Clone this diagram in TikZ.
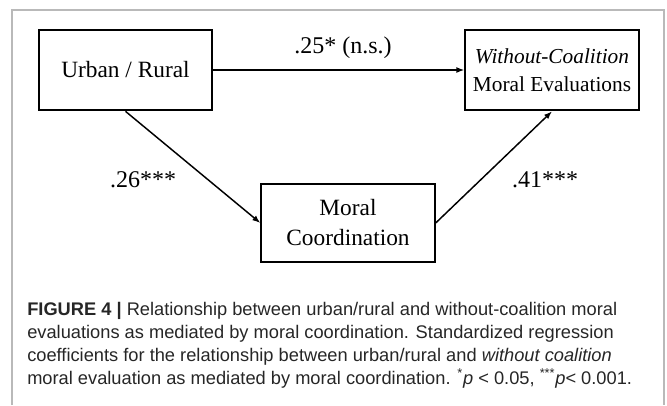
\documentclass[tikz,border=0pt]{standalone}
\usepackage{fontspec}
\setmainfont{Liberation Serif}
\newfontfamily\capfont{Liberation Sans}
\usetikzlibrary{arrows.meta}

\begin{document}
\begin{tikzpicture}[x=0.75pt,y=-0.75pt,
                    box/.style={draw,line width=1.5pt,minimum width=130pt,minimum height=60.5pt,
                        inner sep=0pt,align=center,font=\fontsize{17.5}{22.5}\selectfont},
                    lbl/.style={anchor=base,inner sep=0pt,font=\fontsize{18}{22}\selectfont},
                    arr/.style={line width=1.1pt,-{Latex[length=6pt,width=4.5pt]}}]
                    \useasboundingbox (0,0) rectangle (667,405);
                    \draw[gray!55,line width=0.8pt] (12,405) |- (664,10) -- (664,405);
                    \node[box] (urban) at (125.5,70) {Urban / Rural};
                    \node[box,font=\fontsize{16}{21}\selectfont] (eval) at (552,70)
                        {\textit{Without-Coalition}\\Moral Evaluations};
                    \node[box,minimum height=59pt] (coord) at (348,223) {Moral\\Coordination};
                    \draw[arr] (urban) -- (eval);
                    \draw[arr] (urban.south) -- (coord.west);
                    \draw[arr] (coord.east) -- (eval.south);
                    \node[lbl] (direct) at (343,53) {.25* (n.s.)};
                    \node[lbl] (pathA) at (143,187) {.26***};
                    \node[lbl] (pathB) at (545,187) {.41***};
                    \node[anchor=base west,inner sep=0pt,align=left,text=black!85,
                        font=\capfont\fontsize{13.7}{17.25}\selectfont] (caption) at (27,384)
                        {\textbf{FIGURE 4 |} Relationship between urban/rural and without-coalition moral\\
                         evaluations as mediated by moral coordination. Standardized regression\\
                         coefficients for the relationship between urban/rural and \textit{without coalition}\\
                         moral evaluation as mediated by moral coordination. \textsuperscript{*}\textit{p} < 0.05, \textsuperscript{***}\textit{p}< 0.001.};
                \end{tikzpicture}
\end{document}
